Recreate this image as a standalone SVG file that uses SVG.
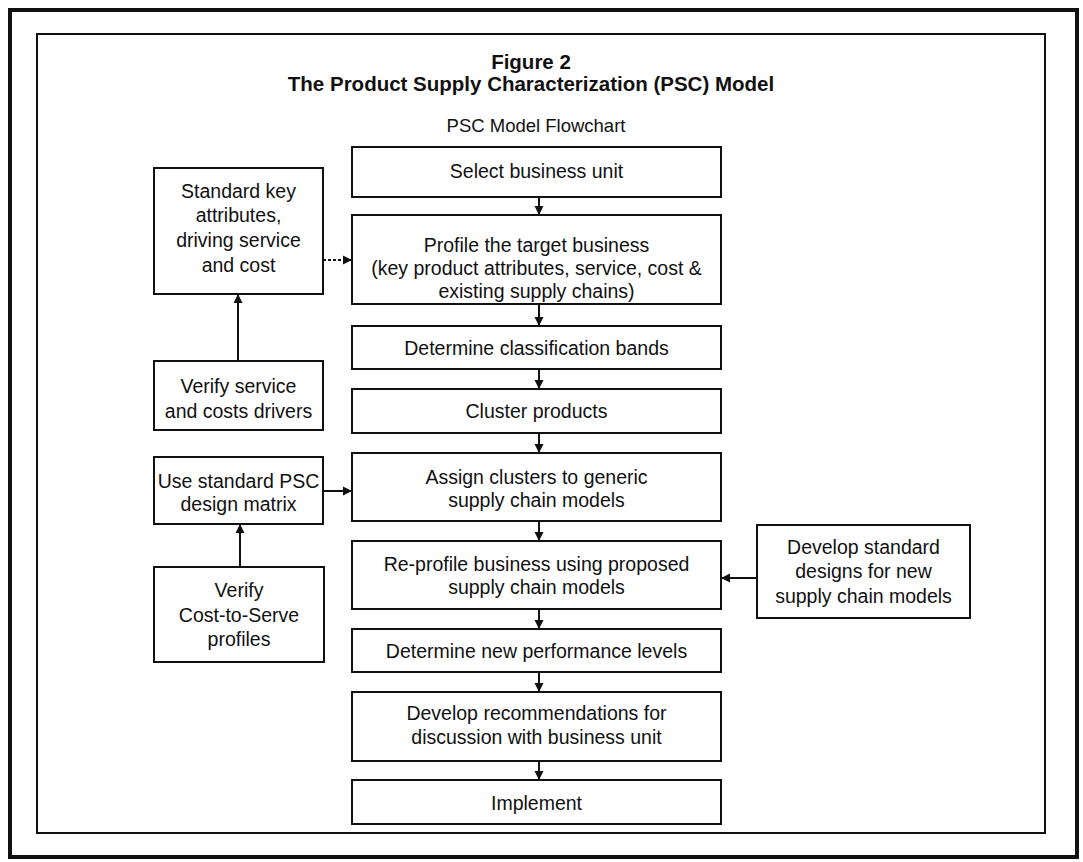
<svg xmlns="http://www.w3.org/2000/svg" width="1083" height="862" viewBox="0 0 1083 862">
<style>
.box{fill:#fff;stroke:#111;stroke-width:2}
.t{font-family:"Liberation Sans",Arial,sans-serif;font-size:19.5px;fill:#111;text-anchor:middle}
.h{font-family:"Liberation Sans",Arial,sans-serif;font-size:20.5px;font-weight:bold;fill:#111;text-anchor:middle}
.c{stroke:#111;stroke-width:2;fill:none;marker-end:url(#ah)}
.d{stroke-dasharray:3 2}
</style>
<defs>
<marker id="ah" markerUnits="userSpaceOnUse" markerWidth="10" markerHeight="10" refX="9" refY="5" orient="auto">
<path d="M0,0.5 L9,5 L0,9.5 z" fill="#111"/>
</marker>
</defs>
<rect width="1083" height="862" fill="#fff"/>
<rect x="10" y="10" width="1067" height="847" fill="none" stroke="#111" stroke-width="4"/>
<rect x="37" y="34" width="1008" height="799" fill="none" stroke="#111" stroke-width="2"/>
<g id="title">
<text class="h" x="531" y="69">Figure 2</text>
<text class="h" x="531" y="91">The Product Supply Characterization (PSC) Model</text>
<text class="t" x="536" y="132" style="font-size:18.5px">PSC Model Flowchart</text>
</g>
<g id="connectors">
<line class="c" x1="539" y1="197" x2="539" y2="215"/>
<line class="c" x1="539" y1="304" x2="539" y2="326"/>
<line class="c" x1="539" y1="369" x2="539" y2="389"/>
<line class="c" x1="539" y1="433" x2="539" y2="453"/>
<line class="c" x1="539" y1="521" x2="539" y2="541"/>
<line class="c" x1="539" y1="609" x2="539" y2="629"/>
<line class="c" x1="539" y1="672" x2="539" y2="692"/>
<line class="c" x1="539" y1="761" x2="539" y2="780"/>
<line class="c" x1="238" y1="361" x2="238" y2="294"/>
<line class="c" x1="240" y1="567" x2="240" y2="524"/>
<line class="c d" x1="323" y1="260" x2="352" y2="260"/>
<line class="c" x1="323" y1="491" x2="352" y2="491"/>
<line class="c" x1="757" y1="578" x2="721" y2="578"/>
</g>
<g id="c1"><rect class="box" x="352" y="147" width="369" height="50"/><text class="t" x="536.5" y="178">Select business unit</text></g>
<g id="c2"><rect class="box" x="352" y="215" width="369" height="89"/><text class="t" x="536.5" y="252">Profile the target business</text><text class="t" x="536.5" y="275">(key product attributes, service, cost &amp;</text><text class="t" x="536.5" y="298">existing supply chains)</text></g>
<g id="c3"><rect class="box" x="352" y="326" width="369" height="43"/><text class="t" x="536.5" y="355">Determine classification bands</text></g>
<g id="c4"><rect class="box" x="352" y="389" width="369" height="44"/><text class="t" x="536.5" y="418">Cluster products</text></g>
<g id="c5"><rect class="box" x="352" y="453" width="369" height="68"/><text class="t" x="536.5" y="484">Assign clusters to generic</text><text class="t" x="536.5" y="507">supply chain models</text></g>
<g id="c6"><rect class="box" x="352" y="541" width="369" height="68"/><text class="t" x="536.5" y="571">Re-profile business using proposed</text><text class="t" x="536.5" y="594">supply chain models</text></g>
<g id="c7"><rect class="box" x="352" y="629" width="369" height="43"/><text class="t" x="536.5" y="658">Determine new performance levels</text></g>
<g id="c8"><rect class="box" x="352" y="692" width="369" height="69"/><text class="t" x="536.5" y="720">Develop recommendations for</text><text class="t" x="536.5" y="744">discussion with business unit</text></g>
<g id="c9"><rect class="box" x="352" y="780" width="369" height="44"/><text class="t" x="536.5" y="810">Implement</text></g>
<g id="l1"><rect class="box" x="154" y="168" width="169" height="126"/><text class="t" x="238.5" y="198">Standard key</text><text class="t" x="238.5" y="222">attributes,</text><text class="t" x="238.5" y="247">driving service</text><text class="t" x="238.5" y="272">and cost</text></g>
<g id="l2"><rect class="box" x="154" y="361" width="169" height="69"/><text class="t" x="238.5" y="393">Verify service</text><text class="t" x="238.5" y="418">and costs drivers</text></g>
<g id="l3"><rect class="box" x="154" y="457" width="169" height="67"/><text class="t" x="238.5" y="488">Use standard PSC</text><text class="t" x="238.5" y="511">design matrix</text></g>
<g id="l4"><rect class="box" x="154" y="567" width="170" height="95"/><text class="t" x="239" y="597">Verify</text><text class="t" x="239" y="622">Cost-to-Serve</text><text class="t" x="239" y="646">profiles</text></g>
<g id="r1"><rect class="box" x="757" y="525" width="213" height="93"/><text class="t" x="863.5" y="554">Develop standard</text><text class="t" x="863.5" y="578">designs for new</text><text class="t" x="863.5" y="603">supply chain models</text></g>
</svg>
